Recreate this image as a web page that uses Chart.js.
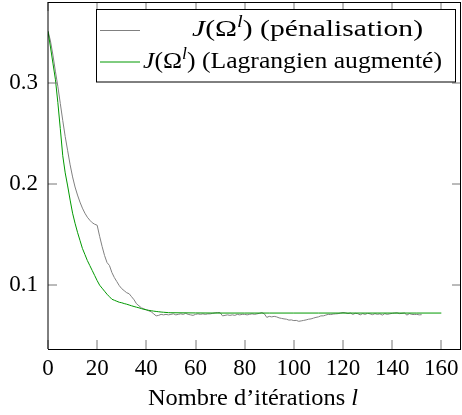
<!DOCTYPE html>
<html>
<head>
<meta charset="utf-8">
<title>J(Omega^l) - pénalisation / Lagrangien augmenté</title>
<script src="https://cdn.jsdelivr.net/npm/chart.js"></script>
<style>
    html, body { margin: 0; padding: 0; background: #fff; }
    #chartCanvas { display: block; }
</style>
</head>
<body>
<canvas id="chartCanvas" width="462" height="415"></canvas>
<script>
// valeurs (une par itération)
var valPenalisation = [
    0.352, 0.342, 0.328, 0.312, 0.297, 0.280, 0.263, 0.247, 0.233, 0.219,
    0.207, 0.197, 0.189, 0.182, 0.176, 0.171, 0.167, 0.164, 0.1615, 0.160,
    0.159, 0.148, 0.138, 0.129, 0.122, 0.119, 0.112, 0.107, 0.103, 0.099,
    0.096, 0.094, 0.092, 0.091, 0.088, 0.085, 0.081, 0.079, 0.077, 0.076,
    0.075, 0.074, 0.073, 0.071, 0.069, 0.0695, 0.0705, 0.070, 0.0705, 0.070,
    0.0705, 0.071, 0.070, 0.0705, 0.071, 0.0705, 0.0715, 0.0705, 0.070, 0.0695,
    0.0705, 0.071, 0.0705, 0.071, 0.0705, 0.071, 0.071, 0.0715, 0.072, 0.0723,
    0.0722, 0.069, 0.0695, 0.070, 0.0695, 0.070, 0.0695, 0.0705, 0.070, 0.0705,
    0.0705, 0.070, 0.0705, 0.071, 0.0705, 0.071, 0.0715, 0.0722, 0.071, 0.0675,
    0.0685, 0.068, 0.0685, 0.068, 0.067, 0.0665, 0.066, 0.0657, 0.0648, 0.065,
    0.0643, 0.0645, 0.0636, 0.064, 0.0645, 0.065, 0.0657, 0.066, 0.0668, 0.0675,
    0.068, 0.069, 0.069, 0.0698, 0.0705, 0.0703, 0.0708, 0.071, 0.0712, 0.0718,
    0.0723, 0.072, 0.0712, 0.0718, 0.0705, 0.0715, 0.0712, 0.070, 0.0712, 0.0705,
    0.0715, 0.071, 0.0702, 0.0712, 0.0705, 0.071, 0.0698, 0.0712, 0.0705, 0.071,
    0.0715, 0.0718, 0.072, 0.0712, 0.0715, 0.0718, 0.0698, 0.0712, 0.0705, 0.0703,
    0.0705, 0.070, 0.0702
];
var iterPenalisation = valPenalisation.map(function (v, i) { return i; });

var iterLagrangien = [
    0, 1, 2, 3, 4, 5, 6, 7, 8, 9,
    10, 11, 12, 13, 14, 15, 16, 17, 18, 19,
    20, 21, 22, 23, 24, 25, 26, 27, 28, 29,
    30, 31, 32, 33, 34, 35, 36, 37, 38, 39,
    40, 41, 42, 43, 44, 45, 46, 47, 48, 49,
    50, 60, 70, 80, 90, 100, 110, 120, 130, 140, 150, 160
];
var valLagrangien = [
    0.3514, 0.336, 0.320, 0.304, 0.281, 0.255, 0.228, 0.211, 0.198, 0.184,
    0.171, 0.161, 0.152, 0.144, 0.136, 0.130, 0.124, 0.119, 0.114, 0.109,
    0.104, 0.0995, 0.0965, 0.0935, 0.0905, 0.088, 0.0855, 0.0845, 0.0835, 0.0825,
    0.082, 0.0812, 0.0806, 0.0798, 0.079, 0.0783, 0.0776, 0.077, 0.0762, 0.0755,
    0.075, 0.0745, 0.0741, 0.0737, 0.0734, 0.0731, 0.0728, 0.0726, 0.0724, 0.0722,
    0.0721, 0.0719, 0.0718, 0.0718, 0.0718, 0.0718, 0.0718, 0.0718, 0.0718, 0.0718, 0.0718, 0.0718
];

var xTicks = [0, 20, 40, 60, 80, 100, 120, 140, 160];
var yTicks = [0.1, 0.2, 0.3];
var legendLabels = ['(pénalisation)', '(Lagrangien augmenté)'];
var xTitle = 'Nombre d’itérations ';

var FONT = '"Liberation Serif", "DejaVu Serif", serif';

function toPoints(xs, ys) {
    return ys.map(function (y, i) { return { x: xs[i], y: y }; });
}

// texte avec J(Ω^l), étiré entre left et right
function drawRich(ctx, parts, left, right, y) {
    var w = 0;
    parts.forEach(function (p) {
        ctx.font = p.font;
        w += ctx.measureText(p.text).width;
    });
    ctx.save();
    ctx.translate(left, y);
    ctx.scale((right - left) / w, 1);
    ctx.textBaseline = 'alphabetic';
    ctx.textAlign = 'left';
    var cx = 0;
    parts.forEach(function (p) {
        ctx.font = p.font;
        ctx.fillText(p.text, cx, -(p.dy || 0));
        cx += ctx.measureText(p.text).width;
    });
    ctx.restore();
}

function jOmega(label) {
    return [
        { text: 'J', font: 'italic 23px ' + FONT },
        { text: '(Ω', font: '23px ' + FONT },
        { text: 'l', font: 'italic 16px ' + FONT, dy: 9 },
        { text: ') ' + label, font: '23px ' + FONT }
    ];
}

var framePlugin = {
    id: 'frame',
    afterDraw: function (chart) {
        var ctx = chart.ctx;
        var a = chart.chartArea;
        var xs = chart.scales.x, ys = chart.scales.y;
        ctx.save();

        // petits traits vers l'intérieur
        ctx.strokeStyle = '#777';
        ctx.lineWidth = 1;
        ctx.beginPath();
        xTicks.forEach(function (t) {
            var px = Math.round(xs.getPixelForValue(t));
            ctx.moveTo(px, a.bottom); ctx.lineTo(px, a.bottom - 9);
            ctx.moveTo(px, a.top); ctx.lineTo(px, a.top + 9);
        });
        yTicks.forEach(function (t) {
            var py = Math.round(ys.getPixelForValue(t));
            ctx.moveTo(a.left, py); ctx.lineTo(a.left + 9, py);
            ctx.moveTo(a.right, py); ctx.lineTo(a.right - 9, py);
        });
        ctx.stroke();

        // cadre
        ctx.strokeStyle = '#000';
        ctx.beginPath();
        ctx.moveTo(a.left, a.top + 0.5); ctx.lineTo(a.right, a.top + 0.5);
        ctx.moveTo(a.left, a.bottom + 0.5); ctx.lineTo(a.right, a.bottom + 0.5);
        ctx.moveTo(a.left, a.top); ctx.lineTo(a.left, a.bottom);
        ctx.moveTo(a.right - 0.5, a.top); ctx.lineTo(a.right - 0.5, a.bottom);
        ctx.stroke();

        // légende
        ctx.fillStyle = '#fff';
        ctx.fillRect(96.5, 9.5, 359, 72.5);
        ctx.strokeStyle = '#000';
        ctx.strokeRect(96.5, 9.5, 359, 72.5);
        var rows = [
            { color: '#808080', lineY: 30.5, base: 36, left: 192, right: 423 },
            { color: '#009900', lineY: 62, base: 68, left: 143, right: 442 }
        ];
        rows.forEach(function (r, i) {
            ctx.strokeStyle = r.color;
            ctx.beginPath();
            ctx.moveTo(100, r.lineY); ctx.lineTo(140, r.lineY);
            ctx.stroke();
            ctx.fillStyle = '#000';
            drawRich(ctx, jOmega(legendLabels[i]), r.left, r.right, r.base);
        });

        // titre de l'axe x
        ctx.fillStyle = '#000';
        drawRich(ctx, [
            { text: xTitle, font: '23px ' + FONT },
            { text: 'l', font: 'italic 23px ' + FONT }
        ], 148, 358, 405);

        ctx.restore();
    }
};

function noPadding(scale) {
    scale.paddingTop = 0;
    scale.paddingBottom = 0;
    scale.paddingLeft = 0;
    scale.paddingRight = 0;
}

var ctx = document.getElementById('chartCanvas').getContext('2d');
var chart = new Chart(ctx, {
    type: 'line',
    data: {
        datasets: [{
            label: 'J(Ω^l) (pénalisation)',
            data: toPoints(iterPenalisation, valPenalisation),
            borderColor: '#808080',
            borderWidth: 1,
            pointRadius: 0,
            tension: 0,
            order: 1
        }, {
            label: 'J(Ω^l) (Lagrangien augmenté)',
            data: toPoints(iterLagrangien, valLagrangien),
            borderColor: '#009900',
            borderWidth: 1,
            pointRadius: 0,
            tension: 0,
            order: 0
        }]
    },
    options: {
        responsive: false,
        animation: false,
        layout: { padding: { top: 2, right: 1, left: 0, bottom: 0 } },
        plugins: {
            legend: { display: false },
            tooltip: { enabled: false }
        },
        scales: {
            x: {
                type: 'linear',
                min: 0,
                max: 168,
                grid: { display: false, drawTicks: false },
                border: { display: false },
                ticks: {
                    autoSkip: false,
                    maxRotation: 0,
                    includeBounds: false,
                    padding: 6,
                    color: '#000',
                    font: { family: FONT, size: 23 }
                },
                afterBuildTicks: function (scale) {
                    scale.ticks = xTicks.map(function (v) { return { value: v }; });
                },
                afterFit: function (scale) { scale.height = 66; noPadding(scale); }
            },
            y: {
                type: 'linear',
                min: 0.0361,
                max: 0.3807,
                grid: { display: false, drawTicks: false },
                border: { display: false },
                ticks: {
                    padding: 10,
                    color: '#000',
                    font: { family: FONT, size: 23 },
                    callback: function (v) { return v.toFixed(1); }
                },
                afterBuildTicks: function (scale) {
                    scale.ticks = yTicks.map(function (v) { return { value: v }; });
                },
                afterFit: function (scale) { scale.width = 48; noPadding(scale); }
            }
        }
    },
    plugins: [framePlugin]
});
</script>
</body>
</html>
